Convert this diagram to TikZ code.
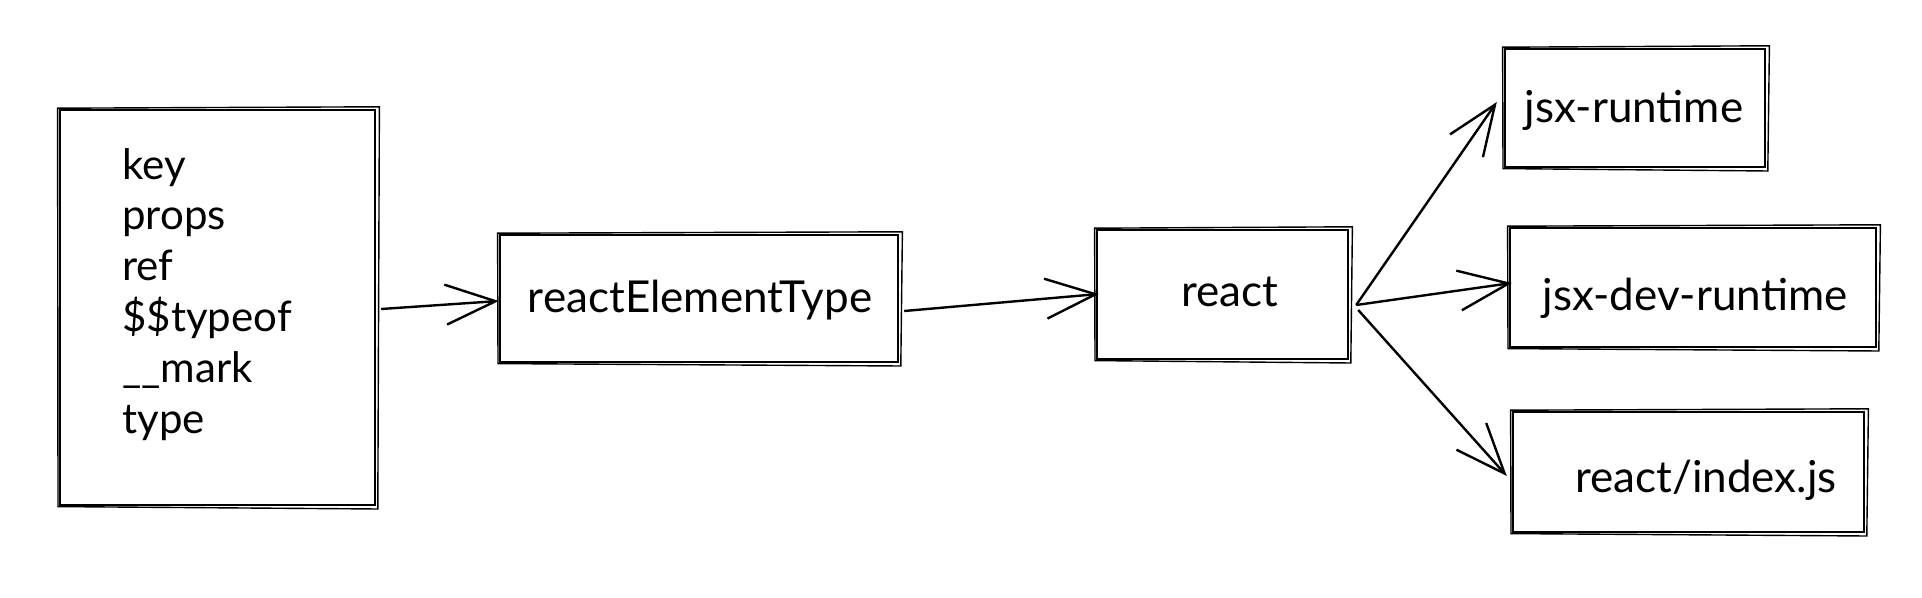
\documentclass[tikz,border=0pt]{standalone}
\usepackage{fontspec}
\setmainfont{Lato}
\usetikzlibrary{arrows.meta}
\tikzset{
  box/.style={draw=black, line width=1.2pt, inner sep=0pt},
  txt/.style={inner sep=0pt, font=\fontsize{22}{26}\selectfont},
  field/.style={inner sep=0pt, anchor=base west, font=\fontsize{21}{25}\selectfont},
  arr/.style={line width=1.2pt, -{Straight Barb[length=25pt,width=20pt,line width=1.2pt]}},
  sk/.style={line width=0.7pt}
}
\newcommand{\sketchbox}[1]{%
  \draw[sk] ([shift={(-0.6pt,0.3pt)}]#1.north west) -- ([shift={(1.6pt,1pt)}]#1.north east)
    -- ([shift={(0.8pt,-1.4pt)}]#1.south east) -- ([shift={(-0.4pt,-0.2pt)}]#1.south west) -- cycle;}
\begin{document}
\begin{tikzpicture}[x=0.5pt,y=-0.5pt]
\useasboundingbox (0,0) rectangle (1922,598);
% left box
\node[box, minimum width=157.5pt, minimum height=197.5pt] (L) at (217.5,307.5) {};
\node[field] (f1) at (122,179.5) {key};
\node[field] (f2) at (122,230) {props};
\node[field] (f3) at (122,281) {ref};
\node[field] (f4) at (122,332) {\$\$typeof};
\node[field] (f5) at (122,383) {\_\_mark};
\node[field] (f6) at (122,433.5) {type};
% reactElementType
\node[box, minimum width=199pt, minimum height=63.5pt] (RE) at (699,298.5) {};
\node[txt] (REt) at (700,300) {reactElementType};
% react
\node[box, minimum width=125.5pt, minimum height=64.5pt] (R) at (1222.5,294.5) {};
\node[txt] (Rt) at (1230,292) {react};
% jsx-runtime
\node[box, minimum width=130pt, minimum height=59pt] (J) at (1635,108) {};
\node[txt] (Jt) at (1634,110) {jsx-runtime};
% jsx-dev-runtime
\node[box, minimum width=183pt, minimum height=59.5pt] (JD) at (1693,287.5) {};
\node[txt] (JDt) at (1695,298) {jsx-dev-runtime};
% react/index.js
\node[box, minimum width=175.5pt, minimum height=60pt] (I) at (1688.5,472) {};
\node[txt] (It) at (1706,480) {react/index.js};
\sketchbox{L}\sketchbox{RE}\sketchbox{R}\sketchbox{J}\sketchbox{JD}\sketchbox{I}
% arrows
\draw[arr] ([shift={(2.5pt,-0.75pt)}]L.east) -- ([shift={(0pt,-1.25pt)}]RE.west);
\draw[arr] ([shift={(2.5pt,-6.25pt)}]RE.east) -- ([shift={(1.5pt,0.25pt)}]R.west);
\draw[arr] ([shift={(3.5pt,-5.25pt)}]R.east) -- ([shift={(-3.5pt,3pt)}]J.west);
\draw[arr] ([shift={(3.5pt,-5.25pt)}]R.east) -- ([shift={(1.5pt,2.25pt)}]JD.west);
\draw[arr] ([shift={(4.5pt,-7.75pt)}]R.east) -- ([shift={(-2.5pt,-2pt)}]I.west);
\end{tikzpicture}
\end{document}
